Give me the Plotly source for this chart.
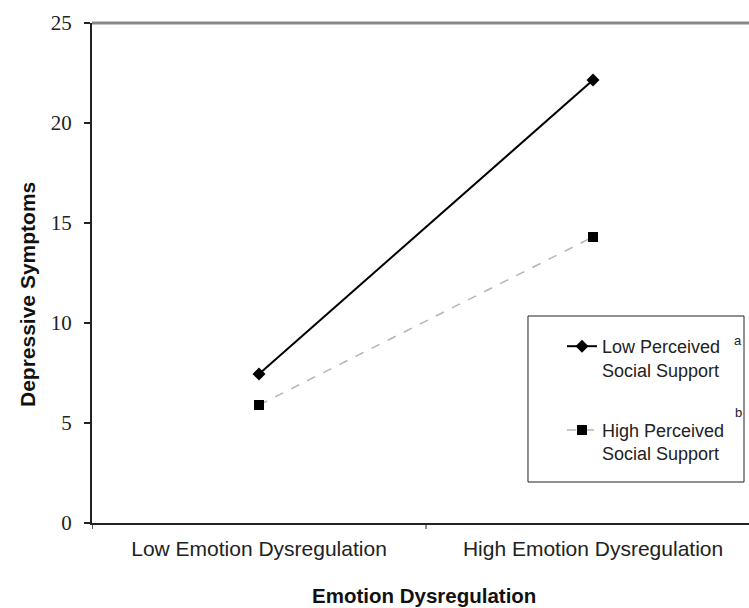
import plotly.graph_objects as go

categories = ["Low Emotion Dysregulation", "High Emotion Dysregulation"]
low_support = [7.45, 22.15]
high_support = [5.9, 14.3]
y_ticks = [0, 5, 10, 15, 20, 25]

fig = go.Figure()
fig.add_trace(go.Scatter(
    x=[0, 1], y=low_support, mode="lines+markers",
    name="Low Perceived<br>Social Support", legendgroup="a",
    line=dict(color="black", width=2),
    marker=dict(symbol="diamond", size=10, color="black"),
))
fig.add_trace(go.Scatter(
    x=[0, 1], y=high_support, mode="lines+markers",
    name="High Perceived<br>Social Support", legendgroup="b",
    line=dict(color="#b5b5b5", width=1.5, dash="dash"),
    marker=dict(symbol="square", size=10, color="black"),
))

fig.update_layout(
    width=749, height=608,
    margin=dict(l=92, r=0, t=23, b=85),
    plot_bgcolor="white", paper_bgcolor="white",
    showlegend=True,
    legend=dict(x=0.7154, y=0.39, xanchor="left", yanchor="top",
                valign="top", tracegroupgap=34,
                font=dict(family="Liberation Sans, Arial", size=18, color="#222"),
                bgcolor="rgba(0,0,0,0)"),
    xaxis=dict(
        range=[-0.5, 1.467], tickvals=[0, 1], ticktext=categories,
        showline=True, linecolor="#222", linewidth=2, showgrid=False,
        zeroline=False, ticks="", ticklabelstandoff=6,
        tickfont=dict(family="Liberation Sans, Arial", size=21, color="#222"),
    ),
    yaxis=dict(
        range=[0, 25], tickvals=y_ticks,
        showline=True, linecolor="#222", linewidth=2, showgrid=False,
        zeroline=False, ticks="outside", ticklen=6, tickwidth=1.5, tickcolor="#222",
        ticklabelstandoff=8,
        tickfont=dict(family="Liberation Serif, Times New Roman", size=21, color="#222"),
    ),
    shapes=[
        dict(type="line", xref="paper", yref="paper", x0=0, x1=1, y0=1, y1=1,
             line=dict(color="#888888", width=3)),
        dict(type="line", xref="x", yref="paper", x0=0.5, x1=0.5, y0=0, y1=-0.012,
             line=dict(color="#222", width=1)),
        dict(type="line", xref="x", yref="paper", x0=-0.5, x1=-0.5, y0=0, y1=-0.012,
             line=dict(color="#222", width=1.5)),
        dict(type="rect", xref="paper", yref="paper", x0=0.6636, x1=0.9924,
             y0=0.082, y1=0.414, line=dict(color="#222", width=1)),
    ],
    annotations=[
        dict(text="<b>Depressive Symptoms</b>", xref="paper", yref="paper",
             x=-0.0989, y=0.456, textangle=-90, showarrow=False,
             xanchor="center", yanchor="middle",
             font=dict(family="Liberation Sans, Arial", size=21, color="#111")),
        dict(text="<b>Emotion Dysregulation</b>", xref="paper", yref="paper",
             x=0.5046, y=-0.144, showarrow=False,
             xanchor="center", yanchor="middle",
             font=dict(family="Liberation Sans, Arial", size=20.5, color="#111")),
        dict(text="a", xref="paper", yref="paper", x=0.993, y=0.366,
             showarrow=False, font=dict(family="Liberation Sans, Arial", size=13, color="#222")),
        dict(text="b", xref="paper", yref="paper", x=0.993, y=0.202,
             showarrow=False, font=dict(family="Liberation Sans, Arial", size=13, color="#222")),
    ],
)

fig.write_html(
    "out.html",
    config={"displayModeBar": False},
    post_script="document.body.style.margin='0';document.body.style.overflow='hidden';",
)
